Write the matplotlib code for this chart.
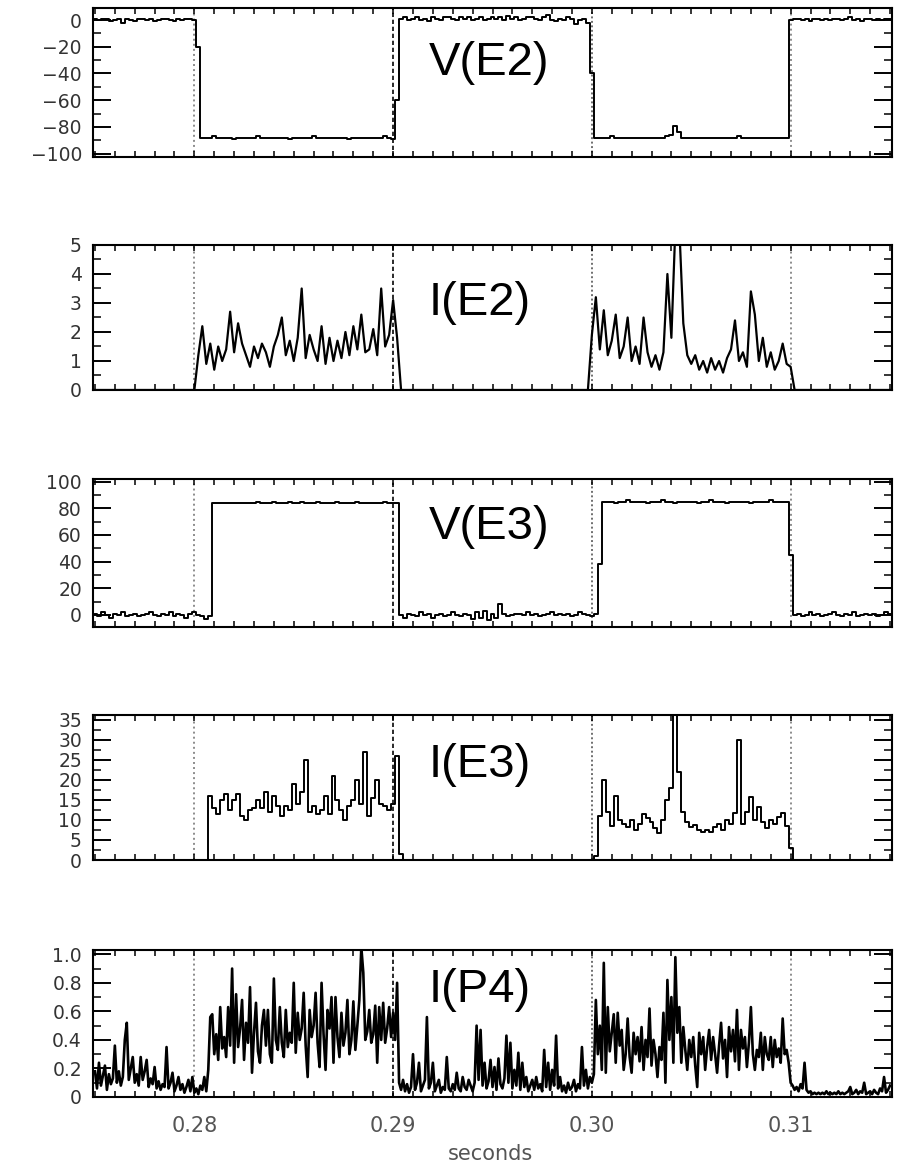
import numpy as np
import matplotlib
matplotlib.use('Agg')
import matplotlib.pyplot as plt
from matplotlib.ticker import MultipleLocator, FuncFormatter

# sampling of the traces (seconds)
t_start = 0.2750
dt_slow = 0.0002   # V(E2), I(E2), V(E3), I(E3)
dt_fast = 0.0001   # I(P4)

# dotted lines at the pulse edges
edge_times = [0.28, 0.29, 0.30, 0.31]

panel_names = ['V(E2)', 'I(E2)', 'V(E3)', 'I(E3)', 'I(P4)']
x_ticklabels = ['0.28', '0.29', '0.30', '0.31']

#---------------------------------------------------------------- V(E2)
v_e2 = [1, 0, 1, 1, -1, 0, 1, -2, 1, 0, -1, 1, 1, 0, 1, -1, 0, 1, 1, 0,
        -1, 1, 0, 1, 1, 0,
        -20,
        -88, -88, -88, -87, -88, -88, -88, -88, -89, -88,
        -88, -88, -88, -88, -87, -88, -88, -88, -88, -88,
        -88, -88, -89, -88, -88, -88, -88, -88, -87, -88,
        -88, -88, -88, -88, -88, -88, -88, -89, -88, -88,
        -88, -88, -88, -88, -88, -88, -87, -88, -89,
        -60,
        1, 2, 0, 1, 2, 0, 1, -1, 2, 1,
        0, 2, 2, 1, 0, 2, 1, 2, 0, 1,
        2, 0, 1, 2, 1, 2, 0, 3, 1, 2,
        0, 1, 2, 2, 1, 0, 2, 4, 0, -1,
        1, 0, 2, 1, -3, 0, 1, -2,
        -40,
        -88, -88, -88, -88, -87, -88, -88, -88, -88, -88,
        -88, -88, -88, -88, -88, -88, -88, -88, -87, -86,
        -79, -84, -88, -88, -88, -88, -88, -88, -88, -88,
        -88, -88, -88, -88, -88, -88, -87, -88, -88, -88,
        -88, -88, -88, -88, -88, -88, -88, -88, -88,
        0, 1, 1, 0, 1, -1, 1, 1, 0, 1,
        0, 1, 1, 0, 1, 2, 0, 1, -1, 1,
        1, 0, 1, 0, 1, 1]

#---------------------------------------------------------------- I(E2)
i_e2 = [0, 0, 0, 0, 0, 0, 0, 0, 0, 0, 0, 0, 0, 0, 0, 0, 0, 0, 0, 0,
        0, 0, 0, 0, 0, 0,
        1.2, 2.2, 0.9, 1.6, 0.7, 1.5, 1.0, 1.4, 2.7, 1.3,
        2.3, 1.6, 1.2, 0.8, 1.5, 1.1, 1.6, 1.3, 0.8, 1.5,
        1.9, 2.5, 1.2, 1.7, 1.0, 1.8, 3.5, 1.1, 1.9, 1.4,
        1.0, 2.2, 0.9, 1.8, 1.0, 1.7, 1.1, 2.0, 1.2, 2.2,
        1.4, 2.6, 1.3, 1.4, 2.1, 1.2, 3.5, 1.5, 1.9, 3.1,
        1.8,
        0, 0, 0, 0, 0, 0, 0, 0, 0, 0, 0, 0, 0, 0, 0, 0, 0, 0, 0, 0,
        0, 0, 0, 0, 0, 0, 0, 0, 0, 0, 0, 0, 0, 0, 0, 0, 0, 0, 0, 0,
        0, 0, 0, 0, 0, 0, 0, 0,
        1.9, 3.2, 1.4, 2.75, 1.2, 1.7, 2.6, 1.1, 1.5, 2.5,
        1.0, 1.5, 0.9, 2.5, 1.3, 0.8, 1.2, 0.7, 1.3, 4.0,
        1.8, 5.6, 5.6, 2.3, 1.2, 0.9, 1.2, 0.7, 1.0, 0.6,
        1.1, 0.7, 1.0, 0.6, 1.1, 1.4, 2.4, 1.0, 1.3, 0.8,
        3.4, 2.6, 1.0, 1.8, 0.8, 1.3, 0.7, 1.0, 1.6, 0.9,
        0.8,
        0, 0, 0, 0, 0, 0, 0, 0, 0, 0, 0, 0, 0, 0, 0, 0, 0, 0, 0, 0,
        0, 0, 0, 0, 0]

#---------------------------------------------------------------- V(E3)
v_e3 = [1, -1, 2, 0, -2, 1, 0, 2, -1, 0,
        1, -1, 0, 1, 2, 0, -1, 1, 0, 2,
        -1, 1, 0, -2, 1, 2, 0, -1, -3, -1,
        84, 84, 84, 84, 84, 84, 84, 84, 84, 84,
        84, 85, 84, 84, 84, 85, 84, 84, 84, 85,
        84, 84, 85, 84, 84, 84, 85, 84, 84, 84,
        84, 85, 84, 84, 84, 84, 85, 84, 84, 84,
        84, 84, 84, 85, 84, 84, 84,
        0, -2, 1, 0, -1, 2, 0, 1, -2, 0,
        1, -1, 0, 2, 0, -1, 1, 0, -3, 2,
        -2, 3, -4, 1, -2, 8, 1, -1, 0, 1,
        1, 0, 2, 0, 1, -1, 0, 1, 2, 0,
        1, 0, 1, -1, 0, 2, 1, 0, -1, 1,
        38,
        85, 85, 85, 84, 85, 85, 86, 85, 85, 85,
        85, 84, 85, 85, 85, 86, 85, 85, 84, 85,
        85, 85, 85, 85, 84, 85, 85, 86, 85, 85,
        85, 84, 85, 85, 85, 85, 85, 84, 85, 85,
        85, 85, 86, 85, 85, 85, 85,
        45,
        0, 1, -1, 0, 2, 0, 1, -1, 0, 1,
        2, 0, -1, 1, 0, 2, -1, 0, 1, 0,
        1, -1, 0, 2, 1]

#---------------------------------------------------------------- I(E3)
i_e3 = [0, 0, 0, 0, 0, 0, 0, 0, 0, 0, 0, 0, 0, 0, 0, 0, 0, 0, 0, 0,
        0, 0, 0, 0, 0, 0, 0, 0, 0,
        16, 13, 11.5, 15, 16.5, 12.5, 15, 16.5, 11, 10,
        12.5, 13, 15, 13, 17, 12, 16, 13.5, 11, 13.5,
        12.5, 19, 14, 17, 25, 12, 13.5, 11.5, 12.5, 16,
        11.5, 21, 15, 12.5, 10, 13.5, 15, 20, 14, 27,
        11, 15.5, 20, 14, 13.5, 12.5, 14, 26, 1.5,
        0, 0, 0, 0, 0, 0, 0, 0, 0, 0, 0, 0, 0, 0, 0, 0, 0, 0, 0, 0,
        0, 0, 0, 0, 0, 0, 0, 0, 0, 0, 0, 0, 0, 0, 0, 0, 0, 0, 0, 0,
        0, 0, 0, 0, 0, 0, 0, 0,
        1, 11, 20, 12, 8.5, 16, 10, 9, 8.3, 10,
        7.5, 9, 11.5, 10.5, 9.5, 8, 6.7, 10, 15, 18,
        37, 22, 12, 9.5, 8.3, 8.8, 7.5, 7, 7.5, 7,
        8.3, 9, 7.5, 10, 9, 11.7, 30, 9, 12, 15.8,
        10, 13.3, 9.5, 8, 10, 9, 10.8, 11.7, 8.5, 3,
        0, 0, 0, 0, 0, 0, 0, 0, 0, 0, 0, 0, 0, 0, 0, 0, 0, 0, 0, 0,
        0, 0, 0, 0, 0]

#---------------------------------------------------------------- I(P4)
i_p4 = [0.18, 0.06, 0.24, 0.08, 0.15, 0.22, 0.05, 0.16, 0.09, 0.13,
        0.36, 0.10, 0.18, 0.08, 0.14, 0.40, 0.52, 0.12, 0.20, 0.28,
        0.10, 0.16, 0.08, 0.28, 0.12, 0.18, 0.26, 0.07, 0.13, 0.09,
        0.21, 0.06, 0.11, 0.05, 0.09, 0.07, 0.35, 0.06, 0.10, 0.17,
        0.04, 0.08, 0.14, 0.05, 0.09, 0.03, 0.07, 0.12, 0.04, 0.14,
        0.03, 0.06, 0.02, 0.08, 0.05, 0.14, 0.04, 0.19,
        0.56, 0.58, 0.30, 0.44, 0.26, 0.63, 0.34, 0.42, 0.28, 0.63, 0.36, 0.90,
        0.24, 0.72, 0.35, 0.48, 0.68, 0.26, 0.52, 0.38, 0.77, 0.17,
        0.45, 0.66, 0.32, 0.24, 0.50, 0.61, 0.36, 0.61, 0.30, 0.24,
        0.83, 0.40, 0.33, 0.63, 0.38, 0.28, 0.61, 0.35, 0.45, 0.38,
        0.80, 0.31, 0.59, 0.40, 0.48, 0.73, 0.36, 0.14, 0.61, 0.42,
        0.50, 0.73, 0.38, 0.21, 0.80, 0.44, 0.19, 0.61, 0.48, 0.70,
        0.24, 0.70, 0.42, 0.28, 0.59, 0.36, 0.45, 0.68, 0.30, 0.40,
        0.67, 0.33, 0.50, 0.68, 1.05, 0.87, 0.40, 0.46, 0.61, 0.38,
        0.44, 0.64, 0.24, 0.63, 0.40, 0.66, 0.38, 0.48, 0.63, 0.42, 0.59, 0.40, 0.80,
        0.10, 0.05, 0.12, 0.04, 0.09, 0.03, 0.07, 0.30, 0.05, 0.10,
        0.24, 0.04, 0.08, 0.12, 0.56, 0.06, 0.10, 0.24, 0.04, 0.08,
        0.12, 0.03, 0.07, 0.05, 0.28, 0.06, 0.04, 0.09, 0.05, 0.17,
        0.06, 0.04, 0.14, 0.07, 0.05, 0.12, 0.08, 0.04, 0.10, 0.50,
        0.12, 0.47, 0.08, 0.24, 0.06, 0.11, 0.26, 0.07, 0.21, 0.05,
        0.27, 0.09, 0.06, 0.13, 0.43, 0.10, 0.38, 0.06, 0.19, 0.08,
        0.31, 0.05, 0.24, 0.07, 0.14, 0.04, 0.08, 0.12, 0.05, 0.14,
        0.06, 0.09, 0.04, 0.33, 0.07, 0.24, 0.05, 0.19, 0.08, 0.43,
        0.06, 0.14, 0.04, 0.08, 0.03, 0.10, 0.05, 0.07, 0.12, 0.04,
        0.09, 0.06, 0.35, 0.08, 0.19, 0.06, 0.14, 0.10, 0.16,
        0.68, 0.30, 0.50, 0.19, 0.94, 0.17, 0.63, 0.32, 0.45, 0.58,
        0.24, 0.59, 0.36, 0.47, 0.19, 0.30, 0.55, 0.28, 0.17, 0.45,
        0.30, 0.42, 0.25, 0.49, 0.19, 0.40, 0.28, 0.62, 0.22, 0.40,
        0.30, 0.14, 0.35, 0.26, 0.59, 0.10, 0.82, 0.40, 0.70, 0.24,
        0.98, 0.45, 0.63, 0.24, 0.49, 0.33, 0.19, 0.40, 0.28, 0.42,
        0.22, 0.07, 0.45, 0.30, 0.42, 0.19, 0.35, 0.47, 0.26, 0.42,
        0.30, 0.17, 0.36, 0.52, 0.27, 0.40, 0.14, 0.49, 0.32, 0.47,
        0.25, 0.61, 0.19, 0.47, 0.34, 0.42, 0.21, 0.38, 0.63, 0.30,
        0.19, 0.33, 0.28, 0.45, 0.19, 0.42, 0.30, 0.26, 0.42, 0.21,
        0.40, 0.28, 0.34, 0.24, 0.55, 0.30, 0.33, 0.24, 0.10,
        0.08, 0.05, 0.07, 0.04, 0.09, 0.06, 0.24, 0.05, 0.03, 0.04,
        0.02, 0.03, 0.02, 0.03, 0.02, 0.03, 0.02, 0.04, 0.02, 0.03,
        0.02, 0.03, 0.02, 0.04, 0.02, 0.03, 0.02, 0.03, 0.04, 0.07,
        0.02, 0.03, 0.05, 0.02, 0.04, 0.03, 0.10, 0.02, 0.03, 0.04,
        0.02, 0.05, 0.03, 0.02, 0.06, 0.04, 0.14, 0.03, 0.05, 0.08]

series = [v_e2, i_e2, v_e3, i_e3, i_p4]
steps = [dt_slow, dt_slow, dt_slow, dt_slow, dt_fast]
drawstyles = ['steps-mid', 'default', 'steps-mid', 'steps-mid', 'default']
line_w = [1.4, 1.6, 1.4, 1.4, 1.9]

# axis setup for each panel: ylim, major step
ylims = [(-102.5, 9), (0, 5), (-9, 102), (0, 36.2), (0, 1.03)]
ymajor = [20, 1, 20, 5, 0.2]

# panel frames in pixels (top, bottom), shared left/right
W, H = 901.0, 1170.0
frames = [(8, 157), (245, 390), (479, 627), (715, 860), (950, 1097)]
left_px, right_px = 93, 892
name_base = [75, 315, 539, 777, 1002]

edge_colors = ['#8c8c8c', '#2a2a2a', '#6e6e6e', '#8c8c8c']
edge_styles = [(0, (1.0, 1.6)), (0, (2.2, 1.4)), (0, (1.0, 1.3)), (0, (1.0, 1.6))]

fig = plt.figure(figsize=(9.01, 11.7), dpi=100)

for n in range(5):
    top, bot = frames[n]
    ax = fig.add_axes([left_px / W, 1 - bot / H, (right_px - left_px) / W, (bot - top) / H])
    vals = np.array(series[n], dtype=float)
    t = t_start + steps[n] * np.arange(len(vals))
    for te, ec, es in zip(edge_times, edge_colors, edge_styles):
        ax.axvline(te, color=ec, lw=1.4, ls=es, zorder=1)
    ax.plot(t, vals, color='black', lw=line_w[n], drawstyle=drawstyles[n], zorder=2)

    ax.set_xlim(0.2749, 0.3151)
    ax.set_ylim(*ylims[n])
    ax.xaxis.set_major_locator(MultipleLocator(0.01))
    ax.xaxis.set_minor_locator(MultipleLocator(0.001))
    ax.yaxis.set_major_locator(MultipleLocator(ymajor[n]))
    ax.yaxis.set_minor_locator(MultipleLocator(ymajor[n] / 2.0))

    for sp in ax.spines.values():
        sp.set_linewidth(1.5)
    ax.tick_params(axis='both', which='both', direction='in', top=True, right=True,
                   color='black')
    ax.tick_params(axis='y', which='major', length=13, width=1.4, pad=8,
                   labelsize=13.5, labelcolor='#333333')
    ax.tick_params(axis='y', which='minor', length=6, width=1.1)
    ax.tick_params(axis='x', which='both', length=4.5, width=1.1)

    if n == 4:
        ax.yaxis.set_major_formatter(FuncFormatter(lambda v, p: '0' if abs(v) < 1e-9 else '%.1f' % v))
        ax.set_xticks(edge_times)
        ax.set_xticklabels(x_ticklabels)
        ax.tick_params(axis='x', which='major', pad=14, labelsize=15, labelcolor='#555555')
    else:
        ax.tick_params(axis='x', labelbottom=False)

    fig.text(429 / W, 1 - name_base[n] / H, panel_names[n], fontsize=34,
             family='Liberation Sans', ha='left', va='baseline', color='black')

fig.text(490 / W, 1 - 1160 / H, 'seconds', fontsize=15, color='#555555',
         ha='center', va='baseline')

plt.savefig('out.png', dpi=100)
